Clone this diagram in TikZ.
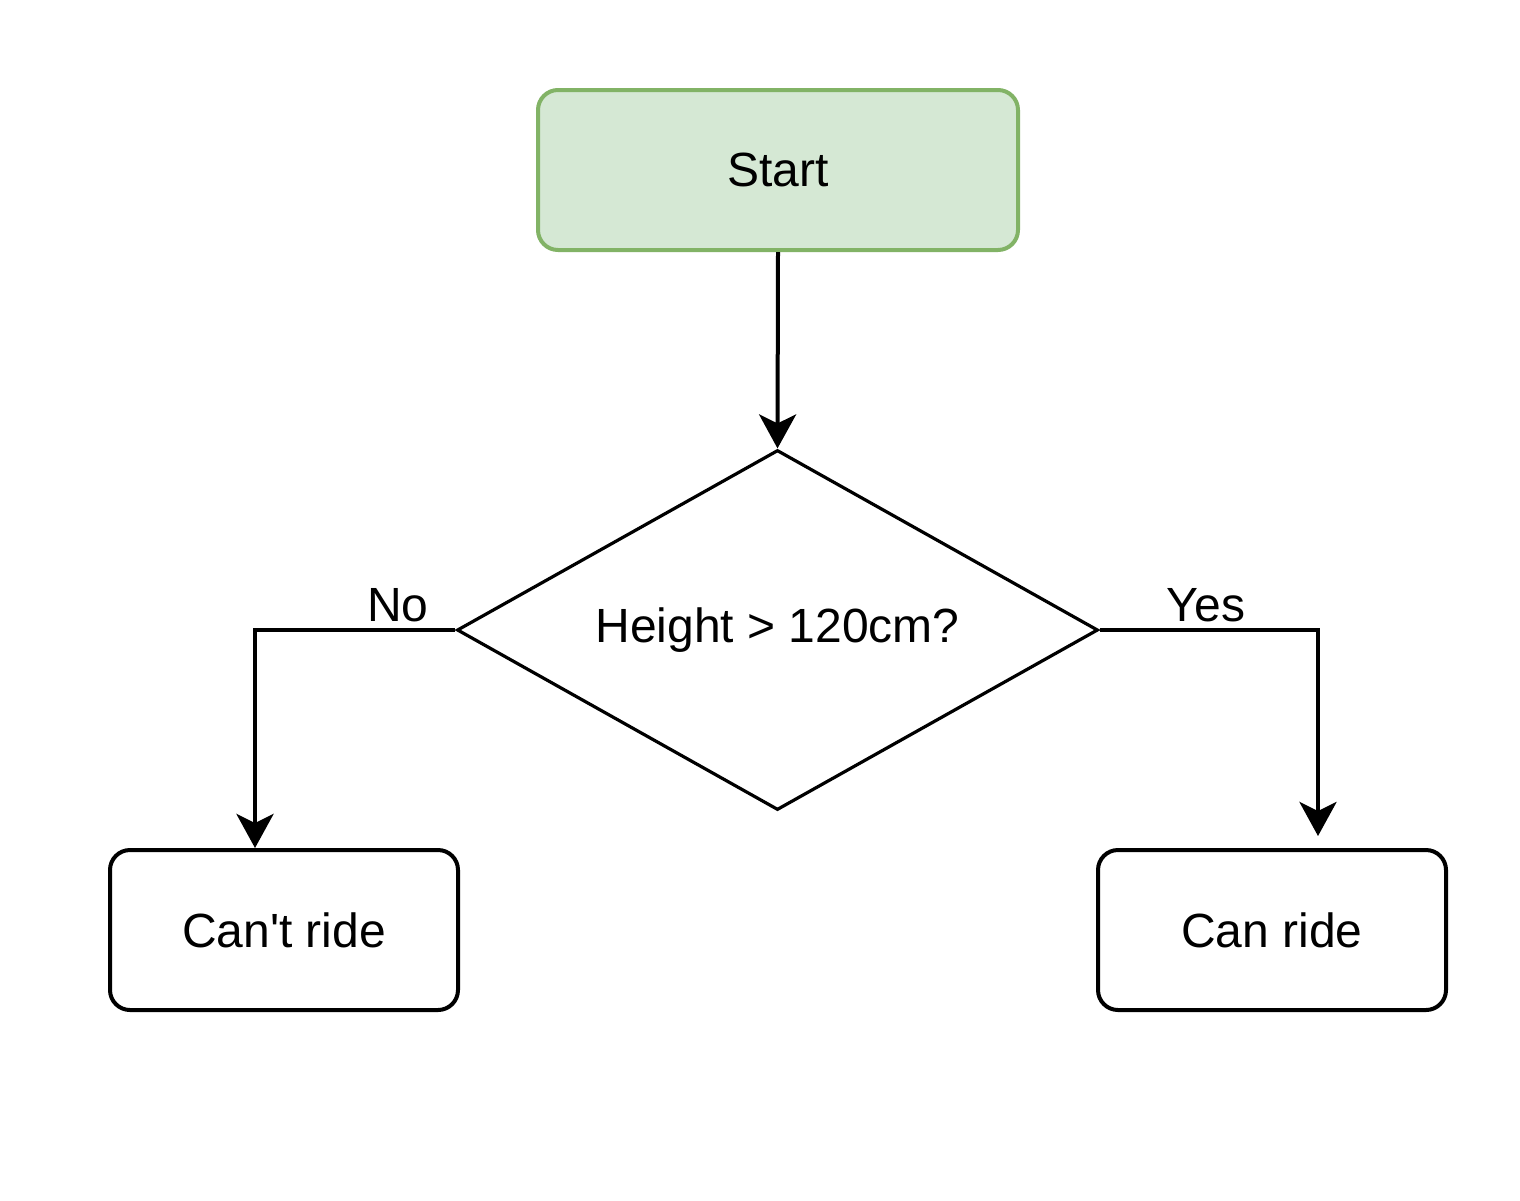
\documentclass[tikz,border=0pt]{standalone}
\usepackage{fontspec}
\setmainfont{Liberation Sans}
\usetikzlibrary{shapes.geometric,arrows.meta}
\definecolor{startfill}{HTML}{D5E8D4}
\definecolor{startline}{HTML}{82B366}
\begin{document}
\begin{tikzpicture}[x=0.5pt,y=-0.5pt,
  every node/.style={font=\fontsize{24}{28}\selectfont},
  box/.style={draw=black,line width=2pt,rounded corners=10pt,
    minimum width=174pt,minimum height=80pt,inner sep=0pt},
  startbox/.style={box,draw=startline,fill=startfill,minimum width=240pt},
  decision/.style={draw=black,line width=1.6pt,diamond,aspect=1.78,
    minimum width=320.5pt,minimum height=180pt,inner sep=0pt},
  arr/.style={line width=2pt,-{Stealth[length=17pt,width=18.5pt,inset=4.5pt]}},
  lbl/.style={inner sep=0pt}]
\useasboundingbox (0,0) rectangle (1520,1200);
\node[startbox] (start) at (778,170) {Start};
\node[decision] (dec) at (777.5,630) {Height > 120cm?};
\node[box] (cant) at (284,930) {Can\textquotesingle t ride};
\node[box] (can) at (1272,930) {Can ride};
\draw[arr] (start.south) -- (dec.north);
\draw[arr] (dec.west) -| ([xshift=-14.5pt]cant.north);
\draw[arr] (dec.east) -| ([xshift=23pt,yshift=6pt]can.north);
\node[lbl] (no) at (398,605) {No};
\node[lbl] (yes) at (1206,605) {Yes};
\end{tikzpicture}
\end{document}
